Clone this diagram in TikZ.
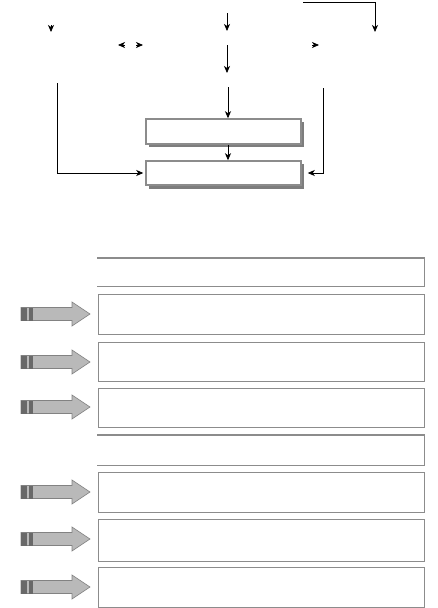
\documentclass[tikz,border=0pt]{standalone}
\usetikzlibrary{arrows.meta}
\definecolor{boxgray}{RGB}{140,140,140}
\definecolor{shadowgray}{RGB}{125,125,125}
\definecolor{arrfill}{RGB}{185,185,185}
\definecolor{arredge}{RGB}{130,130,130}
\definecolor{arrdark}{RGB}{105,105,105}
\begin{document}
\begin{tikzpicture}[x=1pt,y=-1pt,
  conn/.style={draw=black, line width=0.8pt, -{Stealth[length=7pt,width=6pt,inset=2pt]}},
  topbox/.style={draw=boxgray, line width=1.5pt, fill=white, minimum width=155pt, minimum height=25pt, inner sep=0pt},
  shadowbox/.style={fill=shadowgray, minimum width=155pt, minimum height=25pt, inner sep=0pt},
  rowbox/.style={draw=boxgray, line width=1.4pt, minimum width=326pt, inner sep=0pt, anchor=north west},
  openbox/.style={minimum width=327pt, inner sep=0pt, anchor=north west},
  openline/.style={draw=boxgray, line width=1.4pt},
  fatarrow/.style={fill=arrfill, draw=arredge, line width=0.6pt}]
\useasboundingbox (0,0) rectangle (438,608);

% ---- top part ----
\node[shadowbox] at (226.5,134.5) {};
\node[topbox] (b1) at (223.5,131.5) {};
\node[shadowbox] at (226.5,176) {};
\node[topbox, minimum height=24pt] (b2) at (223.5,173) {};

\coordinate (h1a) at (51,25);   \coordinate (h1b) at (51,32);
\coordinate (h2a) at (125,45);  \coordinate (h2b) at (118,45);
\coordinate (h3a) at (136,45);  \coordinate (h3b) at (143,45);
\coordinate (h4a) at (312,45);  \coordinate (h4b) at (319,45);
\coordinate (a1) at (227,13);   \coordinate (a1e) at (227,31);
\coordinate (a2) at (227,45);   \coordinate (a2e) at (227,73);
\coordinate (a3) at (228,87);
\coordinate (t1) at (303,2);    \coordinate (t1e) at (375,32);
\coordinate (l1) at (57,83);
\coordinate (r1) at (323,88);

\draw[conn] (h1a) -- (h1b);
\draw[conn] (h2a) -- (h2b);
\draw[conn] (h3a) -- (h3b);
\draw[conn] (h4a) -- (h4b);
\draw[conn] (a1) -- (a1e);
\draw[conn] (a2) -- (a2e);
\draw[conn] (a3) -- (a3 |- b1.north);
\draw[conn] (b1.south -| a3) -- (b2.north -| a3);
\draw[conn] (t1) -| (t1e);
\draw[conn] (l1) |- ([xshift=-2pt]b2.west);
\draw[conn] (r1) |- ([xshift=6pt]b2.east);

% ---- bottom part ----
\node[openbox, minimum height=28pt] (o0) at (97,258) {};
\draw[openline] (o0.north west) -- (o0.north east) -- (o0.south east) -- (o0.south west);
\node[rowbox, minimum height=40pt] (q1) at (98,294) {};
\node[rowbox, minimum height=39pt] (q2) at (98,342) {};
\node[rowbox, minimum height=39pt] (q3) at (98,388) {};
\node[openbox, minimum height=30pt] (o4) at (97,435) {};
\draw[openline] (o4.north west) -- (o4.north east) -- (o4.south east) -- (o4.south west);
\node[rowbox, minimum height=40pt] (q5) at (98,472) {};
\node[rowbox, minimum height=42pt] (q6) at (98,519) {};
\node[rowbox, minimum height=40pt] (q7) at (98,567) {};

\foreach \c in {314,362,407,492,539,587} {
  \filldraw[fatarrow] (21,{\c-6.5}) -- (72,{\c-6.5}) -- (72,{\c-12}) -- (90,\c)
     -- (72,{\c+12}) -- (72,{\c+6.5}) -- (21,{\c+6.5}) -- cycle;
  \fill[arrdark] (21,{\c-6.5}) rectangle (27,{\c+6.5});
  \fill[arrdark] (29,{\c-6.5}) rectangle (33,{\c+6.5});
}
\end{tikzpicture}
\end{document}
